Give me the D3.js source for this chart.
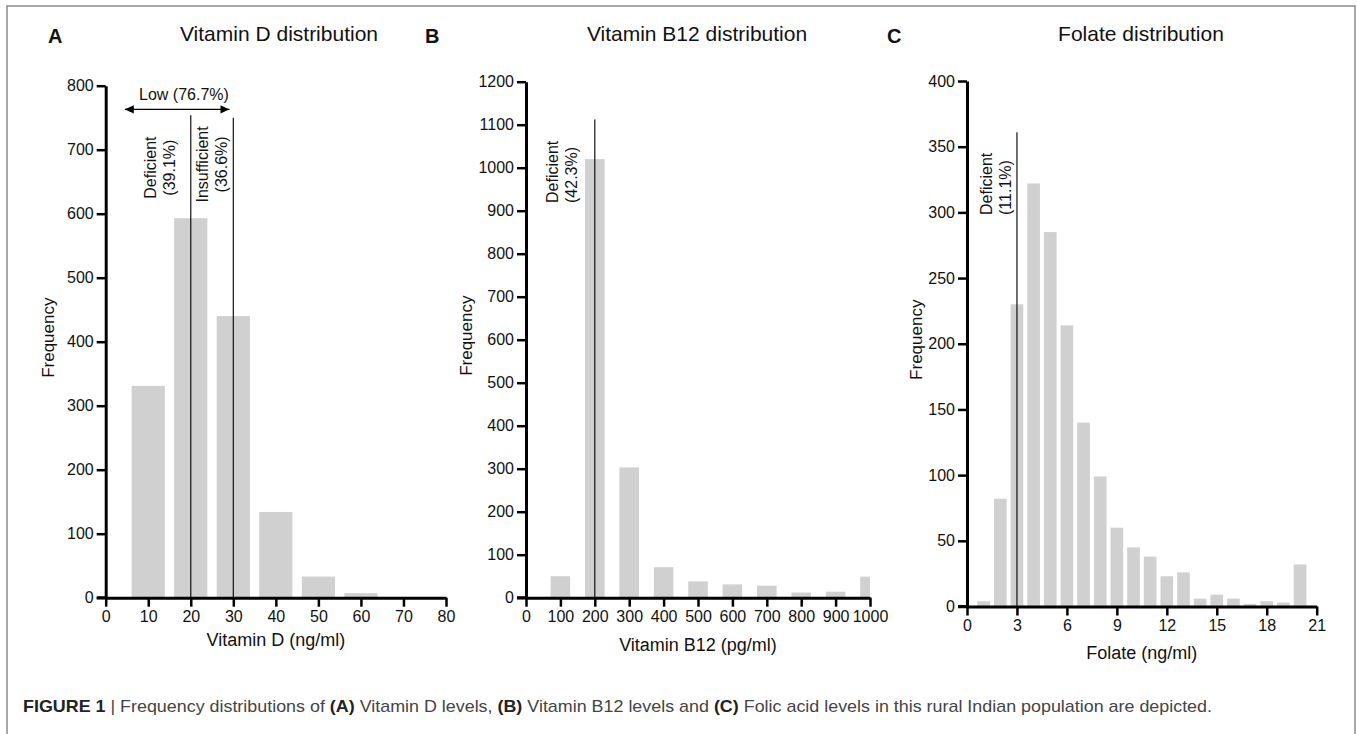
<!DOCTYPE html>
<html>
<head>
<meta charset="utf-8">
<script src="https://cdn.jsdelivr.net/npm/d3@7"></script>
<style>
  html, body { margin: 0; padding: 0; background: #fff; }
  svg { display: block; font-family: "Liberation Sans", Arial, Helvetica, sans-serif; }
</style>
</head>
<body>
<svg id="chart" width="1357" height="734"></svg>
<script>
// ---------------- DATA ----------------
// Panel A: Vitamin D
const vitDBins = [10, 20, 30, 40, 50, 60, 70];
const vitDFreq = [331, 593, 440, 134, 33, 7, 0];
const vitDXTicks = [0, 10, 20, 30, 40, 50, 60, 70, 80];
const vitDYTicks = [0, 100, 200, 300, 400, 500, 600, 700, 800];
const vitDCutoffs = [20, 30];

// Panel B: Vitamin B12
const b12Bins = [100, 200, 300, 400, 500, 600, 700, 800, 900, 1000];
const b12Freq = [50, 1020, 303, 71, 38, 31, 28, 12, 14, 49];
const b12XTicks = [0, 100, 200, 300, 400, 500, 600, 700, 800, 900, 1000];
const b12YTicks = [0, 100, 200, 300, 400, 500, 600, 700, 800, 900, 1000, 1100, 1200];
const b12Cutoffs = [200];

// Panel C: Folate
const folateBins = [1, 2, 3, 4, 5, 6, 7, 8, 9, 10, 11, 12, 13, 14, 15, 16, 17, 18, 19, 20];
const folateFreq = [4, 82, 230, 322, 285, 214, 140, 99, 60, 45, 38, 23, 26, 6, 9, 6, 2, 4, 3, 32];
const folateXTicks = [0, 3, 6, 9, 12, 15, 18, 21];
const folateYTicks = [0, 50, 100, 150, 200, 250, 300, 350, 400];
const folateCutoffs = [3];

const titles = ["Vitamin D distribution", "Vitamin B12 distribution", "Folate distribution"];
const letters = ["A", "B", "C"];
const xTitles = ["Vitamin D (ng/ml)", "Vitamin B12 (pg/ml)", "Folate (ng/ml)"];
const yTitle = "Frequency";

// ---------------- LAYOUT ----------------
const svg = d3.select("#chart");
const BAR = "#d0d0d0";
const FONT = "16px";

// frame
svg.append("rect").attr("x", 7).attr("y", 6).attr("width", 1348).attr("height", 800)
  .attr("fill", "none").attr("stroke", "#8a8a8a").attr("stroke-width", 1.5);

// arrow markers
const defs = svg.append("defs");
defs.append("marker").attr("id", "arrEnd").attr("viewBox", "0 0 10 10")
  .attr("refX", 10).attr("refY", 5).attr("markerWidth", 9).attr("markerHeight", 9)
  .attr("markerUnits", "userSpaceOnUse").attr("orient", "auto")
  .append("path").attr("d", "M0,0.5 L10,5 L0,9.5 Z").attr("fill", "#000");
defs.append("marker").attr("id", "arrStart").attr("viewBox", "0 0 10 10")
  .attr("refX", 0).attr("refY", 5).attr("markerWidth", 9).attr("markerHeight", 9)
  .attr("markerUnits", "userSpaceOnUse").attr("orient", "auto")
  .append("path").attr("d", "M10,0.5 L0,5 L10,9.5 Z").attr("fill", "#000");

const panels = [
  { bins: vitDBins, freq: vitDFreq, xTicks: vitDXTicks, yTicks: vitDYTicks, cut: vitDCutoffs,
    xr: [105.7, 446], yr: [597.7, 85.7], barW: 7.8, cutTop: [754, 750],
    titleX: 279, letterX: 48, yTitleX: 54, yTitleDy: -4, xTitleY: 646,
    labels: [
      { x: 11.8, y: 672, lines: ["Deficient", "(39.1%)"], anchor: "middle" },
      { x: 24.1, y: 677, lines: ["Insufficient", "(36.6%)"], anchor: "middle" }
    ],
    arrow: { x0: 4.5, x1: 29.1, y: 763, text: "Low (76.7%)", tx: 18.4, ty: 778 }
  },
  { bins: b12Bins, freq: b12Freq, xTicks: b12XTicks, yTicks: b12YTicks, cut: b12Cutoffs,
    xr: [526, 870], yr: [597.7, 81.7], barW: 57, cutTop: [1112],
    titleX: 697, letterX: 425, yTitleX: 472, yTitleDy: -4, xTitleY: 651,
    labels: [ { x: 93, y: 918, lines: ["Deficient", "(42.3%)"], anchor: "start" } ]
  },
  { bins: folateBins, freq: folateFreq, xTicks: folateXTicks, yTicks: folateYTicks, cut: folateCutoffs,
    xr: [967, 1316.7], yr: [606.5, 81], barW: 0.76, cutTop: [361],
    titleX: 1141, letterX: 887, yTitleX: 922, yTitleDy: -4, xTitleY: 659,
    labels: [ { x: 1.5, y: 298, lines: ["Deficient", "(11.1%)"], anchor: "start" } ]
  }
];

const fmt = d3.format("d");

panels.forEach((p, i) => {
  const xDom = [p.xTicks[0], p.xTicks[p.xTicks.length - 1]];
  const yDom = [p.yTicks[0], p.yTicks[p.yTicks.length - 1]];
  const x = d3.scaleLinear().domain(xDom).range(p.xr);
  const y = d3.scaleLinear().domain(yDom).range(p.yr);
  const g = svg.append("g");

  // bars
  g.selectAll("rect.bar").data(p.bins.map((b, k) => ({ b, v: p.freq[k] })).filter(d => d.v > 0))
    .enter().append("rect").attr("class", "bar")
    .attr("x", d => x(Math.max(xDom[0], d.b - p.barW / 2)))
    .attr("width", d => x(Math.min(xDom[1], d.b + p.barW / 2)) - x(Math.max(xDom[0], d.b - p.barW / 2)))
    .attr("y", d => y(d.v))
    .attr("height", d => y(0) - y(d.v))
    .attr("fill", BAR);

  // cutoff lines
  p.cut.forEach((c, k) => {
    g.append("line").attr("x1", x(c)).attr("x2", x(c))
      .attr("y1", y(0)).attr("y2", y(p.cutTop[k]))
      .attr("stroke", "#111").attr("stroke-width", 1.2);
  });

  // axes
  const xAxis = d3.axisBottom(x).tickValues(p.xTicks).tickFormat(fmt).tickSize(9).tickSizeOuter(0).tickPadding(4);
  const yAxis = d3.axisLeft(y).tickValues(p.yTicks).tickFormat(fmt).tickSize(9).tickSizeOuter(0).tickPadding(3);
  const gx = g.append("g").attr("transform", `translate(0,${y(0)})`).call(xAxis);
  const gy = g.append("g").attr("transform", `translate(${x(0)},0)`).call(yAxis);
  [gx, gy].forEach(a => {
    a.select(".domain").attr("stroke", "#000").attr("stroke-width", 3);
    a.selectAll(".tick line").attr("stroke", "#000").attr("stroke-width", 2.5);
    a.selectAll(".tick text").attr("fill", "#111").style("font-size", FONT)
      .style("font-family", '"Liberation Sans", Arial, sans-serif');
  });
  // extend x-axis line to meet left end of y tick
  g.append("line").attr("x1", x(0) - 9).attr("x2", x(0)).attr("y1", y(0)).attr("y2", y(0))
    .attr("stroke", "#000").attr("stroke-width", 3);

  // titles
  svg.append("text").attr("x", p.titleX).attr("y", 41).attr("text-anchor", "middle")
    .style("font-size", "21px").attr("fill", "#111").text(titles[i]);
  svg.append("text").attr("x", p.letterX).attr("y", 43)
    .style("font-size", "20px").style("font-weight", "bold").attr("fill", "#111").text(letters[i]);
  svg.append("text").attr("x", (p.xr[0] + p.xr[1]) / 2).attr("y", p.xTitleY).attr("text-anchor", "middle")
    .style("font-size", "18px").attr("fill", "#111").text(xTitles[i]);
  svg.append("text")
    .attr("transform", `translate(${p.yTitleX},${(p.yr[0] + p.yr[1]) / 2 + p.yTitleDy}) rotate(-90)`)
    .attr("text-anchor", "middle").style("font-size", "17px").attr("fill", "#111").text(yTitle);

  // rotated annotations
  p.labels.forEach(l => {
    const t = g.append("text")
      .attr("transform", `translate(${x(l.x)},${y(l.y)}) rotate(-90)`)
      .attr("text-anchor", l.anchor).style("font-size", FONT).attr("fill", "#111");
    l.lines.forEach((line, k) => {
      t.append("tspan").attr("x", 0).attr("dy", k === 0 ? 0 : "1.2em").text(line);
    });
  });

  // arrow
  if (p.arrow) {
    const a = p.arrow;
    g.append("line").attr("x1", x(a.x0)).attr("x2", x(a.x1))
      .attr("y1", y(a.y)).attr("y2", y(a.y))
      .attr("stroke", "#000").attr("stroke-width", 1.2)
      .attr("marker-start", "url(#arrStart)").attr("marker-end", "url(#arrEnd)");
    g.append("text").attr("x", x(a.tx)).attr("y", y(a.ty)).attr("text-anchor", "middle")
      .style("font-size", FONT).attr("fill", "#111").text(a.text);
  }
});

// caption
const cap = svg.append("text").attr("x", 23).attr("y", 712)
  .style("font-size", "17px").attr("fill", "#444")
  .attr("textLength", 1189).attr("lengthAdjust", "spacingAndGlyphs");
const capParts = [
  ["FIGURE 1", true], [" | Frequency distributions of ", false], ["(A)", true],
  [" Vitamin D levels, ", false], ["(B)", true], [" Vitamin B12 levels and ", false],
  ["(C)", true], [" Folic acid levels in this rural Indian population are depicted.", false]
];
capParts.forEach(([s, b]) => {
  cap.append("tspan").style("font-weight", b ? "bold" : "normal")
    .attr("fill", b ? "#222" : "#444").text(s);
});
</script>
</body>
</html>
